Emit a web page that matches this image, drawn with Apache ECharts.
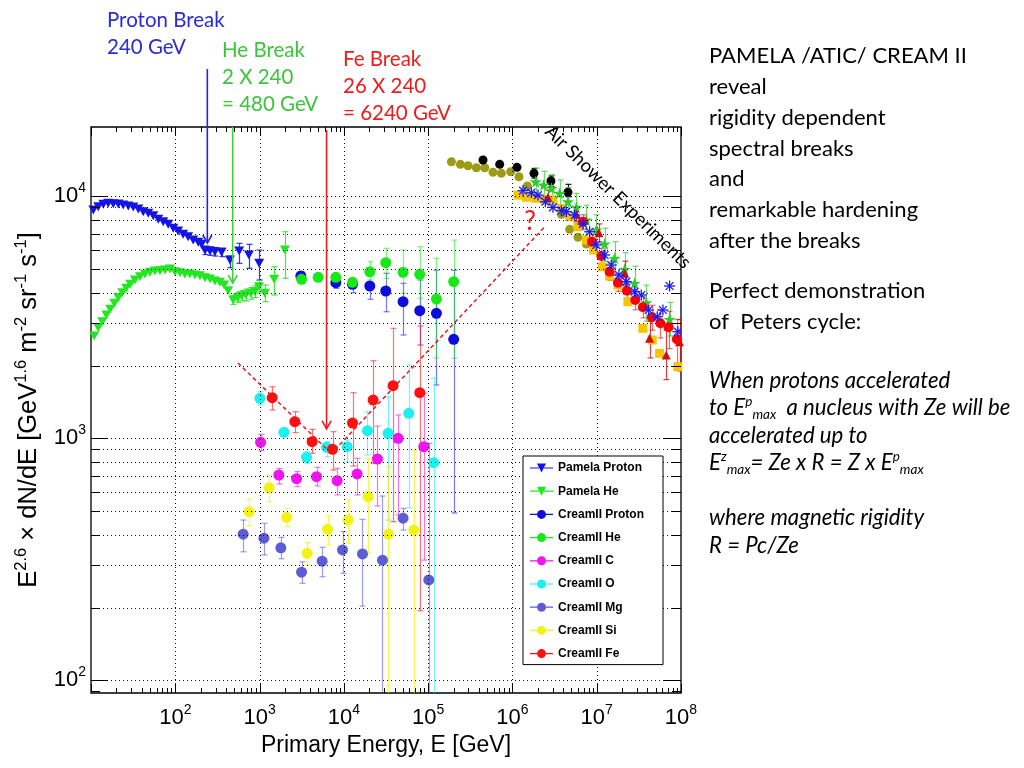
<!DOCTYPE html>
<html><head><meta charset="utf-8">
<script src="https://cdn.jsdelivr.net/npm/echarts@6/dist/echarts.min.js"></script>
<style>html,body{margin:0;padding:0;background:#fff}#c{width:1024px;height:768px}</style>
</head><body><div id="c"></div>
<script>
// ---------------- DATA ----------------
// Pamela proton
const pamPE = [10.65,12.2,14.0,16.0,18.4,21.1,24.1,27.7,31.7,36.4,41.7,47.8,54.8,62.8,72.0,82.5,94.6,108,124,142,163,187,205,225,258,295,354,445,573,747,989];
const pamPV = [8787,9066,9277,9365,9328,9302,9215,9129,9043,8872,8647,8517,8323,8042,7861,7668,7382,7194,6972,6815,6603,6461,6340,5988,5948,5908,5875,5460,5948,5727,5291];
const pamPLo = [null,null,null,null,null,null,null,null,null,null,null,null,null,null,null,null,null,null,null,null,null,null,null,5750,5710,5670,5640,5075,5291,5046,4513];
const pamPHi = [null,null,null,null,null,null,null,null,null,null,null,null,null,null,null,null,null,null,null,null,null,null,null,6230,6190,6150,6110,5672,6400,6340,6003];
// Pamela He
const pamHeE = [10.9,12.2,13.6,15.2,16.9,18.9,21.1,23.5,26.2,29.2,33.2,38.1,43.7,50.1,57.4,65.8,75.4,86.4,99.1,114,130,149,171,196,225,258,295,338,380,424,486,548,612,688,782,880,981,1156,1490,1995];
const pamHeV = [2649,2868,3035,3235,3416,3616,3815,4001,4172,4334,4513,4657,4778,4857,4917,4932,4965,5012,4884,4838,4778,4778,4733,4701,4613,4556,4470,4416,4304,4076,3733,3815,3888,3914,3978,4039,4236,3978,4543,6003];
const pamHeLo = [null,null,null,null,null,null,null,null,null,null,null,null,null,null,null,null,null,null,null,null,null,null,null,null,null,null,null,null,null,null,3580,3650,3700,3700,3760,3820,3990,3673,3914,4587];
const pamHeHi = [null,null,null,null,null,null,null,null,null,null,null,null,null,null,null,null,null,null,null,null,null,null,null,null,null,null,null,null,null,null,3890,3990,4080,4140,4200,4270,4500,4304,5122,7147];
// CREAM II
const crPE = [3087,8028,12664,20310,31430,50400,79500,125400,201000];
const crPV = [4690,4399,4334,4264,4066,3673,3371,3288,2567];
const crPLo = [4500,4172,4001,3757,3338,2675,2432,1662,492];
const crPHi = [4880,4543,4443,4399,4811,4374,4513,4955,4955];
const crHeE = [3148,4951,8028,12664,20310,31430,50400,79500,125400,201000];
const crHeV = [4543,4631,4631,4416,4884,5321,4857,4765,3767,4443];
const crHeLo = [4400,4480,4450,4236,4513,4587,3978,3793,2149,2143];
const crHeHi = [4690,4780,4820,4513,5374,6104,6003,6196,5549,6603];
const crCE = [1028,1693,2746,4741,8318,14360,25050,43980,88700];
const crCV = [964,706,682,695,669,713,822,1001,924];
const crCLo = [890,648,632,636,584,584,526,483,314];
const crCHi = [1040,752,729,760,752,828,1125,1250,1536];
const crOE = [1008,1942,3608,6228,10930,19070,33460,58880,116500];
const crOV = [1465,1060,835,919,924,1076,1050,1270,794];
const crOLo = [1374,1016,789,840,801,854,460,517,60];
const crOHi = [1560,1101,881,969,985,1289,1487,2011,1776];
const crMgE = [639,1125,1788,3148,5524,9638,16640,28730,50400,101700];
const crMgV = [402,387,353,280,311,346,333,314,468,260];
const crMgLo = [340,330,318,252,268,277,203,60,418,60];
const crMgHi = [460,446,390,309,355,412,463,578,514,954];
const crSiE = [753,1299,2090,3668,6400,11230,19390,33830,67500];
const crSiV = [498,626,472,335,421,460,574,402,418];
const crSiLo = [436,547,432,300,363,369,335,60,60];
const crSiHi = [560,706,514,371,478,557,828,764,896];
const crFeE = [1411,2620,4203,7336,12664,22230,38370,79500];
const crFeV = [1473,1172,969,902,1158,1441,1651,1545];
const crFeLo = [1310,1056,868,740,769,789,453,194];
const crFeHi = [1635,1289,1090,1066,1545,2095,2851,2914];
// Air shower experiments
const asOlE = [188900,241500,297200,373700,469000,588300,739700,953500,1196000,1504000,3805000,4773000,5986000,7530000];
const asOlV = [13910,13570,13390,13140,13140,12580,12460,12650,12060,11040,8433,7311,6776,6357];
const asBkE = [447700,706300,1132000,1801000,2864000,4557000];
const asBkV = [14140,13570,13190,12460,11580,10400];
const asBkLo = [null,null,null,11900,11000,9970];
const asBkHi = [null,null,null,13050,12150,11220];
const asSqE = [1164000,1464000,1887000,2412000,3026000,3805000,4773000,5986000,7530000,9190000,11650000,14220000,17840000,23440000,35300000,45600000,55700000,91800000];
const asSqV = [10130,9916,9820,9728,9663,8930,8244,7496,6603,6003,5122,4690,4304,3673,2851,2551,2247,1978];
const asAsE = [1334000,1678000,2009000,2458000,3026000,3805000,4362000,5470000,6860000,8240000,9890000,12410000,14900000,18340000,22430000,28130000,33800000,41250000,52300000,61000000,73200000,91800000];
const asAsV = [10560,10360,10130,9509,9016,8729,8647,8378,7691,7147,6299,5727,5206,4733,4443,4039,3914,3393,3184,3393,4264,2760];
const asTrE = [2640000,5730000,10620000,21420000,42400000,66800000,96000000];
const asTrV = [9916,8459,7079,4811,2592,2211,2510];
const asTrLo = [9300,7900,6500,4300,2150,1750,1900];
const asTrHi = [10600,9000,7700,5400,3050,2800,3100];
const asStE = [1887000,2347000,2920000,3632000,4557000,5730000,7530000,9890000,12410000,16290000,21420000,28130000,38740000,73200000];
const asStV = [11500,11150,10800,10300,9509,9016,7990,7265,6357,5549,4999,4374,3637,3105];
const asStLo = [10000,9800,9500,9000,8300,7800,6800,6200,5400,4700,4250,3700,3050,2650];
const asStHi = [13100,12700,12300,11700,10900,10300,9200,8400,7400,6500,5850,5150,4300,3650];
const asRcE = [6860000,8770000,11340000,14220000,17840000,22810000,28660000,35300000,45100000,56800000,71200000,89300000];
const asRcV = [7861,6498,5672,4884,4399,4076,3733,3481,3166,2990,2878,2567];
const asRcLo = [7300,6050,5250,4500,4050,3750,3400,3150,2800,2600,2350,1950];
const asRcHi = [8400,6950,6100,5300,4800,4450,4100,3850,3550,3400,3350,3100];
// annotations
const breakE = [240, 480, 6240];
const breakTop = [33600, 19360, 18800];
const breakTip = [6420, 4386, 1094];
const vSegE1 = [553, 7816], vSegV1 = [2049, 896];
const vSegE2 = [6808, 2410000], vSegV2 = [879, 7480];
// axes
const xMin = 10, xMax = 1e8, yMin = 88.7, yMax = 19360;
const xDecades = [10,100,1e3,1e4,1e5,1e6,1e7,1e8];
const yDecades = [100,1000,10000];
const minorMult = [2,3,4,5,6,7,8,9];
const legendNames = ['Pamela Proton','Pamela He','CreamII Proton','CreamII He','CreamII C','CreamII O','CreamII Mg','CreamII Si','CreamII Fe'];

// ---------------- BUILD ----------------
const xMinor = []; xDecades.slice(0,-1).forEach(d => minorMult.forEach(m => xMinor.push(d*m)));
const yMinor = [90]; yDecades.forEach(d => minorMult.forEach(m => { if (d*m < yMax) yMinor.push(d*m); }));

const C = {
  pamP:'#1414e6', pamHe:'#22e622', crP:'#0c0cdc', crHe:'#18e818', crC:'#f014f0', crO:'#1cf0f0',
  crMg:'#5c5cd6', crSi:'#f2f214', crFe:'#ff1010',
  olive:'#9c9c14', black:'#000000', sq:'#f7c400', ast:'#1a1aff', tri:'#d01010', star:'#2ecc2e', rc:'#ff0000'
};
const breakColors = ['#2424e0', '#3fd03f', '#ee1c1c'];

function errBars(xs, lo, hi, color, cap, opacity, lw) {
  const data = [];
  xs.forEach((x,i) => { if (lo[i] != null && hi[i] != null) data.push([x, lo[i], hi[i]]); });
  return {
    type:'custom', silent:true, clip:true, z:3, data, encode:{x:0, y:[1,2]},
    renderItem(params, api) {
      const x = api.value(0);
      const a = api.coord([x, api.value(1)]), b = api.coord([x, api.value(2)]);
      const st = {stroke:color, lineWidth:lw || 1.2, opacity};
      const px = Math.round(a[0]) + 0.5;
      return {type:'group', children:[
        {type:'line', shape:{x1:px, y1:a[1], x2:px, y2:b[1]}, style:st},
        {type:'line', shape:{x1:px-cap, y1:a[1], x2:px+cap, y2:a[1]}, style:st},
        {type:'line', shape:{x1:px-cap, y1:b[1], x2:px+cap, y2:b[1]}, style:st}
      ]};
    }
  };
}
function scatter(name, xs, ys, symbol, size, color, extra) {
  return Object.assign({
    type:'scatter', name, symbol, symbolSize:size,
    data: xs.map((x,i) => [x, ys[i]]),
    itemStyle:{color, opacity:1}, z:4, silent:true, clip:true
  }, extra || {});
}
const starPath = 'path://M0,-10L2.35,-3.24L9.51,-3.09L3.8,1.24L5.88,8.09L0,4L-5.88,8.09L-3.8,1.24L-9.51,-3.09L-2.35,-3.24Z';
const circleIcon = 'path://M0,3.9L7.2,3.9L7.2,5.1L0,5.1Z M15.8,3.9L23,3.9L23,5.1L15.8,5.1Z M16,4.5A4.5,4.5 0 1 1 7,4.5A4.5,4.5 0 1 1 16,4.5Z';
const triIcon = 'path://M0,3.9L9,3.9L9,5.1L0,5.1Z M14,3.9L23,3.9L23,5.1L14,5.1Z M7,0L16,0L11.5,9Z';

const frameSeries = {
  type:'custom', silent:true, clip:false, z:6, data:[[xMin, yMin]],
  renderItem(params, api) {
    const cs = params.coordSys;
    const L = cs.x, T = cs.y, R = cs.x + cs.width, B = cs.y + cs.height;
    const kids = [];
    const seg = (x1,y1,x2,y2,st) => kids.push({type:'line', shape:{x1,y1,x2,y2}, style:st});
    const dot = {stroke:'#111', lineWidth:1, lineDash:[1,3]};
    const tk = {stroke:'#000', lineWidth:1};
    const X = v => Math.round(api.coord([v, yMin])[0]) + 0.5;
    const Y = v => Math.round(api.coord([xMin, v])[1]) + 0.5;
    xDecades.forEach(v => { const x = X(v); if (x > L+2 && x < R-2) seg(x, T, x, B, dot); });
    yDecades.concat(yMinor).forEach(v => { const y = Y(v); if (y > T+2 && y < B-2) seg(L, y, R, y, dot); });
    xDecades.forEach(v => { const x = X(v); seg(x, B, x, B-9, tk); seg(x, T, x, T+9, tk); });
    xMinor.forEach(v => { const x = X(v); seg(x, B, x, B-5, tk); seg(x, T, x, T+5, tk); });
    yDecades.forEach(v => { const y = Y(v); seg(L, y, L+17, y, tk); seg(R, y, R-17, y, tk); });
    yMinor.forEach(v => { const y = Y(v); seg(L, y, L+9, y, tk); seg(R, y, R-9, y, tk); });
    return {type:'group', children:kids};
  }
};
const gridDots = Object.assign({}, frameSeries, {z:1});

const arrowSeries = {
  type:'custom', silent:true, clip:false, z:8,
  data: breakE.map((e,i) => [e, breakTop[i], breakTip[i], i]),
  renderItem(params, api) {
    const c = breakColors[api.value(3)];
    const a = api.coord([api.value(0), api.value(1)]), b = api.coord([api.value(0), api.value(2)]);
    const st = {stroke:c, lineWidth:1.6, fill:null};
    return {type:'group', children:[
      {type:'line', shape:{x1:b[0], y1:a[1], x2:b[0], y2:b[1]}, style:st},
      {type:'polyline', shape:{points:[[b[0]-4.5, b[1]-8], [b[0], b[1]], [b[0]+4.5, b[1]-8]]}, style:st}
    ]};
  }
};
const vSeries = {
  type:'custom', silent:true, clip:false, z:7,
  data: vSegE1.map((e,i) => [e, vSegV1[i], vSegE2[i], vSegV2[i]]),
  renderItem(params, api) {
    const a = api.coord([api.value(0), api.value(1)]), b = api.coord([api.value(2), api.value(3)]);
    return {type:'line', shape:{x1:a[0], y1:a[1], x2:b[0], y2:b[1]}, style:{stroke:'#e41e1e', lineWidth:1.5, lineDash:[4,3]}};
  }
};
const asteriskSeries = {
  type:'custom', silent:true, clip:true, z:5,
  data: asAsE.map((x,i) => [x, asAsV[i]]),
  renderItem(params, api) {
    const p = api.coord([api.value(0), api.value(1)]);
    const r = 5.5, d = r * 0.7071;
    const st = {stroke:C.ast, lineWidth:1.3};
    return {type:'group', children:[
      {type:'line', shape:{x1:p[0]-r, y1:p[1], x2:p[0]+r, y2:p[1]}, style:st},
      {type:'line', shape:{x1:p[0], y1:p[1]-r, x2:p[0], y2:p[1]+r}, style:st},
      {type:'line', shape:{x1:p[0]-d, y1:p[1]-d, x2:p[0]+d, y2:p[1]+d}, style:st},
      {type:'line', shape:{x1:p[0]-d, y1:p[1]+d, x2:p[0]+d, y2:p[1]-d}, style:st}
    ]};
  }
};

const isPow = v => Math.abs(Math.log10(v) - Math.round(Math.log10(v))) < 1e-6;
const labelRich = {
  b:{fontSize:22, fontFamily:'Liberation Sans', color:'#000', lineHeight:30},
  e:{fontSize:14, fontFamily:'Liberation Sans', color:'#000', lineHeight:14, verticalAlign:'top'}
};
const ax = {
  type:'log', logBase:10, axisLine:{show:false}, axisTick:{show:false},
  splitLine:{show:false}, minorTick:{show:false}, minorSplitLine:{show:false}
};

const series = [
  gridDots,
  errBars(pamPE, pamPLo, pamPHi, C.pamP, 3, 0.85),
  scatter('Pamela Proton', pamPE, pamPV, 'triangle', [10,9], C.pamP, {symbolRotate:180}),
  errBars(pamHeE, pamHeLo, pamHeHi, C.pamHe, 3, 0.85),
  scatter('Pamela He', pamHeE, pamHeV, 'triangle', [10,9], C.pamHe, {symbolRotate:180}),
  errBars(crPE, crPLo, crPHi, C.crP, 3, 0.55),
  scatter('CreamII Proton', crPE, crPV, 'circle', 11, C.crP),
  errBars(crHeE, crHeLo, crHeHi, C.crHe, 3, 0.55),
  scatter('CreamII He', crHeE, crHeV, 'circle', 11, C.crHe),
  errBars(crCE, crCLo, crCHi, C.crC, 3, 0.6),
  scatter('CreamII C', crCE, crCV, 'circle', 11, C.crC),
  errBars(crOE, crOLo, crOHi, C.crO, 3, 0.6),
  scatter('CreamII O', crOE, crOV, 'circle', 11, C.crO),
  errBars(crMgE, crMgLo, crMgHi, C.crMg, 3, 0.6),
  scatter('CreamII Mg', crMgE, crMgV, 'circle', 11, C.crMg),
  errBars(crSiE, crSiLo, crSiHi, C.crSi, 3, 0.7),
  scatter('CreamII Si', crSiE, crSiV, 'circle', 11, C.crSi),
  errBars(crFeE, crFeLo, crFeHi, C.crFe, 3, 0.6),
  scatter('CreamII Fe', crFeE, crFeV, 'circle', 11, C.crFe),
  scatter('Olive', asOlE, asOlV, 'circle', 9, C.olive),
  errBars(asBkE, asBkLo, asBkHi, C.black, 3, 0.9),
  scatter('Black', asBkE, asBkV, 'circle', 9, C.black),
  scatter('Squares', asSqE, asSqV, 'rect', 9, C.sq),
  asteriskSeries,
  errBars(asStE, asStLo, asStHi, C.star, 3, 0.7),
  scatter('Stars', asStE, asStV, starPath, 12, C.star),
  errBars(asTrE, asTrLo, asTrHi, C.tri, 3, 0.8),
  scatter('Triangles', asTrE, asTrV, 'triangle', [9,9], C.tri),
  errBars(asRcE, asRcLo, asRcHi, C.rc, 3, 0.6),
  scatter('RedCircles', asRcE, asRcV, 'circle', 10, C.rc),
  vSeries,
  arrowSeries,
  frameSeries
];

const IT = 22.2;
const supRich = {
  t:{fontSize:IT, fontFamily:'Lato', fontStyle:'italic', fill:'#000', lineHeight:27.5},
  sup:{fontSize:13.5, fontFamily:'Lato', fontStyle:'italic', fill:'#000', lineHeight:13, verticalAlign:'top'},
  sub:{fontSize:13.5, fontFamily:'Lato', fontStyle:'italic', fill:'#000', lineHeight:13, verticalAlign:'bottom'}
};
const italicLine = (top, text) => ({
  type:'text', left:709, top, silent:true,
  style:{text, fontSize:IT, fontFamily:'Lato', fontStyle:'italic', fill:'#000', lineHeight:27.5, rich:supRich}
});

const option = {
  animation:false,
  backgroundColor:'#fff',
  grid:{left:91, right:343, top:127, bottom:75, show:true, borderColor:'#000', borderWidth:1.3, backgroundColor:'transparent', outerBoundsMode:'none', containLabel:false},
  xAxis: Object.assign({}, ax, {
    min:xMin, max:xMax,
    axisLabel:{margin:10, formatter:v => (isPow(v) && v > 50) ? '{b|10}{e|' + Math.round(Math.log10(v)) + '}' : '', rich:labelRich, showMinLabel:true, showMaxLabel:true, hideOverlap:false},
    name:'Primary Energy, E [GeV]', nameLocation:'middle', nameGap:40,
    nameTextStyle:{fontSize:23, fontFamily:'Liberation Sans', color:'#000'}
  }),
  yAxis: Object.assign({}, ax, {
    min:yMin, max:yMax,
    axisLabel:{margin:5, formatter:v => isPow(v) ? '{b|10}{e|' + Math.round(Math.log10(v)) + '}' : '', rich:labelRich, showMinLabel:true, showMaxLabel:true, hideOverlap:false},
    name:'{t|E}{s|2.6}{t| × dN/dE [GeV}{s|1.6}{t| m}{s|-2}{t| sr}{s|-1}{t| s}{s|-1}{t|]}',
    nameLocation:'middle', nameRotate:90, nameGap:46,
    nameTextStyle:{rich:{
      t:{fontSize:25.5, fontFamily:'Liberation Sans', color:'#000', lineHeight:32},
      s:{fontSize:16.5, fontFamily:'Liberation Sans', color:'#000', lineHeight:16, verticalAlign:'top'}
    }}
  }),
  legend:{
    orient:'vertical', left:523, top:456, itemWidth:23, itemHeight:9, itemGap:11.2,
    padding:[6,19,5,7], borderColor:'#000', borderWidth:1, backgroundColor:'#fff',
    selectedMode:false, z:20,
    textStyle:{fontFamily:'Liberation Sans', fontWeight:'bold', fontSize:12, color:'#000'},
    data: legendNames.map((n,i) => ({name:n, icon: i < 2 ? triIcon : circleIcon}))
  },
  graphic:[
    {type:'text', left:107, top:7, silent:true, style:{text:'Proton Break\n240 GeV', fill:'#2b2bd8', fontSize:20.5, fontFamily:'Lato', lineHeight:27}},
    {type:'text', left:222, top:37, silent:true, style:{text:'He Break\n2 X 240\n= 480 GeV', fill:'#3cc43c', fontSize:20.5, fontFamily:'Lato', lineHeight:27}},
    {type:'text', left:343, top:46, silent:true, style:{text:'Fe Break\n26 X 240\n= 6240 GeV', fill:'#ee1c1c', fontSize:20.5, fontFamily:'Lato', lineHeight:27}},
    {type:'text', left:709, top:41, silent:true, style:{text:'PAMELA /ATIC/ CREAM II\nreveal\nrigidity dependent\nspectral breaks\nand\nremarkable hardening\nafter the breaks', fill:'#000', fontSize:22, fontFamily:'Lato', lineHeight:30.7}},
    {type:'text', left:709, top:276, silent:true, style:{text:'Perfect demonstration\nof  Peters cycle:', fill:'#000', fontSize:22, fontFamily:'Lato', lineHeight:30.7}},
    italicLine(367, '{t|When protons accelerated}'),
    italicLine(394.5, '{t|to E}{sup|p}{sub|max}{t|  a nucleus with Ze will be}'),
    italicLine(422, '{t|accelerated up to}'),
    italicLine(449.5, '{t|E}{sup|z}{sub|max}{t|= Ze x R = Z x E}{sup|p}{sub|max}'),
    italicLine(504.5, '{t|where magnetic rigidity}'),
    italicLine(532, '{t|R = Pc/Ze}'),
    {type:'text', x:618, y:197, rotation:-Math.PI*44.4/180, silent:true, z:9, style:{text:'Air Shower Experiments', fill:'#000', fontSize:18.5, fontFamily:'Lato', align:'center', verticalAlign:'middle'}},
    {type:'text', x:530, y:222, silent:true, z:9, style:{text:'?', fill:'#ee1c1c', fontSize:26, fontFamily:'Lato', align:'center', verticalAlign:'middle'}}
  ],
  series
};
const chart = echarts.init(document.getElementById('c'), null, {renderer:'canvas', width:1024, height:768});
chart.setOption(option);
</script></body></html>
